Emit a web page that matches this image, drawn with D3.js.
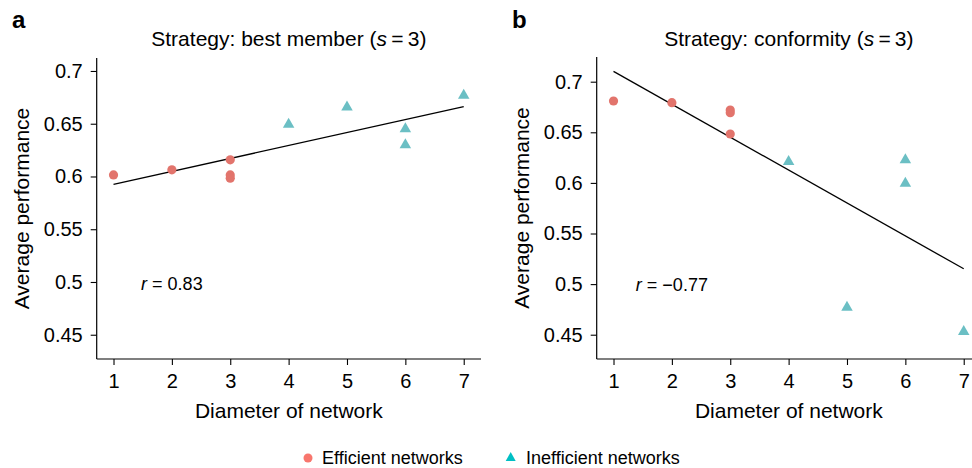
<!DOCTYPE html>
<html><head><meta charset="utf-8">
<script src="https://cdn.jsdelivr.net/npm/d3@7/dist/d3.min.js"></script>
<style>
html,body{margin:0;padding:0;background:#fff;}
text{font-family:"Liberation Sans",Arial,Helvetica,sans-serif;fill:#000;}
</style></head>
<body>
<svg id="chart" width="972" height="468"></svg>
<script>
// ---- data ----
const diameter = [1, 2, 3, 3, 3, 4, 5, 6, 6, 7];
const networkType = ["Efficient","Efficient","Efficient","Efficient","Efficient",
                     "Inefficient","Inefficient","Inefficient","Inefficient","Inefficient"];
const bestMemberPerf = [0.6015, 0.6063, 0.6158, 0.6015, 0.5984, 0.650, 0.6663, 0.6458, 0.6306, 0.6774];
const conformityPerf = [0.6809, 0.6793, 0.672, 0.6694, 0.6483, 0.6216, 0.4777, 0.6233, 0.6002, 0.4537];
const xTicks = [1, 2, 3, 4, 5, 6, 7];
const yTicks = [0.45, 0.5, 0.55, 0.6, 0.65, 0.7];
const panelLetters = ["a", "b"];
const panelTitles = ["best member", "conformity"];
const rValues = ["0.83", "\u22120.77"];
const legendLabels = ["Efficient networks", "Inefficient networks"];

const plotColors = {Efficient: "#e2746c", Inefficient: "#6bbfc4"};
const legendColors = {Efficient: "#f8766d", Inefficient: "#00bfc4"};

const svg = d3.select("#chart");

const panels = [
  {values: bestMemberPerf, left: 96.7, right: 481, top: 58, bottom: 359, yDomain: [0.427, 0.7123], letterX: 12},
  {values: conformityPerf, left: 596.7, right: 981, top: 57, bottom: 359, yDomain: [0.426, 0.7244], letterX: 512}
];

function triPath(cx, cy, w, h) {
  return `M${cx},${cy - h * 0.6}L${cx + w / 2},${cy + h * 0.4}L${cx - w / 2},${cy + h * 0.4}Z`;
}
const fmt = d => String(+d.toFixed(2));

panels.forEach((p, i) => {
  const x = d3.scaleLinear().domain([0.712, 7.296]).range([p.left, p.right]);
  const y = d3.scaleLinear().domain(p.yDomain).range([p.bottom, p.top]);
  const g = svg.append("g");

  // axes
  const xAxis = g.append("g").attr("transform", `translate(0,${p.bottom})`)
    .call(d3.axisBottom(x).tickValues(xTicks).tickSize(6).tickPadding(9).tickFormat(d3.format("d")));
  const yAxis = g.append("g").attr("transform", `translate(${p.left},0)`)
    .call(d3.axisLeft(y).tickValues(yTicks).tickSize(6).tickPadding(8).tickFormat(fmt));
  [xAxis, yAxis].forEach(a => {
    a.select(".domain").attr("d", null);
    a.selectAll(".tick line").attr("stroke", "#000").attr("stroke-width", 1.1);
    a.selectAll(".tick text").attr("font-size", 20).attr("font-family", "Liberation Sans, Arial, sans-serif").attr("fill", "#000");
  });
  // axis lines (classic)
  g.append("line").attr("x1", p.left).attr("x2", p.right).attr("y1", p.bottom).attr("y2", p.bottom)
    .attr("stroke", "#000").attr("stroke-width", 1.2);
  g.append("line").attr("x1", p.left).attr("x2", p.left).attr("y1", p.top).attr("y2", p.bottom)
    .attr("stroke", "#000").attr("stroke-width", 1.2);

  // regression line
  const n = diameter.length;
  const mx = d3.mean(diameter), my = d3.mean(p.values);
  let sxy = 0, sxx = 0;
  for (let k = 0; k < n; k++) { sxy += (diameter[k] - mx) * (p.values[k] - my); sxx += (diameter[k] - mx) ** 2; }
  const slope = sxy / sxx, icpt = my - slope * mx;
  const [x0, x1] = d3.extent(diameter);
  g.append("line").attr("x1", x(x0)).attr("y1", y(icpt + slope * x0))
    .attr("x2", x(x1)).attr("y2", y(icpt + slope * x1))
    .attr("stroke", "#000").attr("stroke-width", 1.3);

  // points
  diameter.forEach((d, k) => {
    const t = networkType[k];
    if (t === "Efficient") {
      g.append("circle").attr("cx", x(d)).attr("cy", y(p.values[k])).attr("r", 4.6).attr("fill", plotColors[t]);
    } else {
      g.append("path").attr("d", triPath(x(d), y(p.values[k]), 11.5, 10)).attr("fill", plotColors[t]);
    }
  });

  // r annotation
  const rt = g.append("text").attr("x", x(2)).attr("y", y(0.4928)).attr("text-anchor", "middle").attr("font-size", 18);
  rt.append("tspan").attr("font-style", "italic").text("r");
  rt.append("tspan").text(" = " + rValues[i]);

  // title
  const cx = (p.left + p.right) / 2;
  const tt = g.append("text").attr("x", cx).attr("y", 45.5).attr("text-anchor", "middle").attr("font-size", 21);
  tt.append("tspan").text("Strategy: " + panelTitles[i] + " (");
  tt.append("tspan").attr("font-style", "italic").text("s");
  tt.append("tspan").text("\u2009=\u20093)");

  // axis titles
  g.append("text").attr("x", cx).attr("y", 418).attr("text-anchor", "middle").attr("font-size", 21)
    .text("Diameter of network");
  g.append("text").attr("transform", `translate(${p.left - 68},${(p.top + p.bottom) / 2}) rotate(-90)`)
    .attr("text-anchor", "middle").attr("font-size", 21).text("Average performance");

  // panel letter
  svg.append("text").attr("x", p.letterX).attr("y", 28).attr("font-size", 24).attr("font-weight", "bold")
    .text(panelLetters[i]);
});

// legend
const lg = svg.append("g");
lg.append("circle").attr("cx", 308).attr("cy", 458).attr("r", 4.5).attr("fill", legendColors.Efficient);
lg.append("text").attr("x", 322).attr("y", 464).attr("font-size", 18).text(legendLabels[0]);
lg.append("path").attr("d", triPath(510.7, 457.5, 10, 9)).attr("fill", legendColors.Inefficient);
lg.append("text").attr("x", 526).attr("y", 464).attr("font-size", 18).text(legendLabels[1]);
</script>
</body></html>
